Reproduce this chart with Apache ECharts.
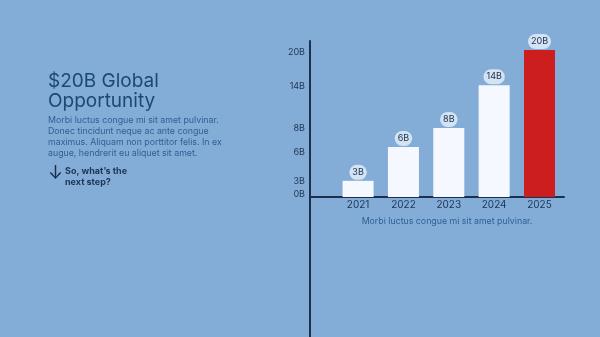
<!DOCTYPE html>
<html><head><meta charset="utf-8">
<script src="https://cdn.jsdelivr.net/npm/echarts@6/dist/echarts.min.js"></script>
<style>html,body{margin:0;padding:0;background:#83add7;}#c{width:600px;height:337px;}</style>
</head><body><div id="c"></div>
<script>
const years = [2021, 2022, 2023, 2024, 2025];
const barValues = [2.2, 6.8, 9.4, 15.2, 20];
const barLabels = ['3B', '6B', '8B', '14B', '20B'];
const yTickValues = [0.3, 2.2, 6.1, 9.4, 15.1, 19.7];
const yTickLabels = ['0B', '3B', '6B', '8B', '14B', '20B'];
const headline = ['$20B Global', 'Opportunity'];
const bodyLines = ['Morbi luctus congue mi sit amet pulvinar.', 'Donec tincidunt neque ac ante congue', 'maximus. Aliquam non porttitor felis. In ex', 'augue, hendrerit eu aliquet sit amet.'];
const ctaLines = ['So, what\u2019s the', 'next step?'];
const caption = 'Morbi luctus congue mi sit amet pulvinar.';

const navy = '#1b2f4e';
const FONT = 'Inter, "Noto Sans", sans-serif';
const chart = echarts.init(document.getElementById('c'));
chart.setOption({
  backgroundColor: '#83add7',
  animation: false,
  grid: [
    { left: 310, right: 36, top: 41, height: 156, outerBoundsMode: 'none', containLabel: false },
    { left: 310, right: 36, top: 197, bottom: 0, outerBoundsMode: 'none', containLabel: false }
  ],
  xAxis: [{
    gridIndex: 0, type: 'value', min: 2019.94, max: 2025.54,
    axisLine: { show: true, lineStyle: { color: navy, width: 2 } },
    axisTick: { show: false },
    splitLine: { show: false },
    axisLabel: { customValues: years, color: '#1d3556', fontSize: 10, fontFamily: FONT, margin: 3, formatter: v => String(v) }
  }, {
    gridIndex: 1, type: 'value', show: false
  }],
  yAxis: [{
    gridIndex: 0, type: 'value', min: 0, max: 21.22,
    axisLine: { show: true, lineStyle: { color: navy, width: 2 } },
    axisTick: { show: false },
    splitLine: { show: false },
    axisLabel: {
      customValues: yTickValues, color: '#1d3556', fontSize: 9, fontFamily: FONT, margin: 5,
      formatter: v => { const i = yTickValues.indexOf(v); return i >= 0 ? yTickLabels[i] : ''; }
    }
  }, {
    gridIndex: 1, type: 'value', min: 0, max: 1,
    axisLine: { show: true, lineStyle: { color: navy, width: 2 } },
    axisTick: { show: false }, axisLabel: { show: false }, splitLine: { show: false }
  }],
  series: [{
    type: 'bar',
    xAxisIndex: 0, yAxisIndex: 0,
    barWidth: 31,
    data: years.map((y, i) => ({
      value: [y, barValues[i]],
      itemStyle: { color: i === years.length - 1 ? '#cc1e1e' : '#f5f9ff' }
    })),
    label: {
      show: true, position: 'top', distance: 1,
      formatter: p => barLabels[p.dataIndex],
      color: '#1d2f4a', fontSize: 9, fontFamily: FONT,
      backgroundColor: 'rgba(225,236,249,0.85)', borderRadius: 8, padding: [3, 3, 3, 3],
      minMargin: 0
    }
  }],
  graphic: [
    { type: 'text', left: 48, top: 71, style: { text: headline.join('\n'), fill: '#1d4872', font: '19px ' + FONT, lineHeight: 20 } },
    { type: 'text', left: 48, top: 115, style: { text: bodyLines.join('\n'), fill: '#2f5f94', font: '8.8px ' + FONT, lineHeight: 11 } },
    { type: 'text', left: 48, top: 165, style: { text: '\u2193', fill: navy, font: '18px ' + FONT } },
    { type: 'text', left: 65, top: 166, style: { text: ctaLines.join('\n'), fill: '#1d3556', font: 'bold 9px ' + FONT, lineHeight: 11 } },
    { type: 'text', x: 447, y: 221, style: { text: caption, fill: '#2f5f94', font: '8.8px ' + FONT, align: 'center', verticalAlign: 'middle' } }
  ]
});
</script></body></html>
